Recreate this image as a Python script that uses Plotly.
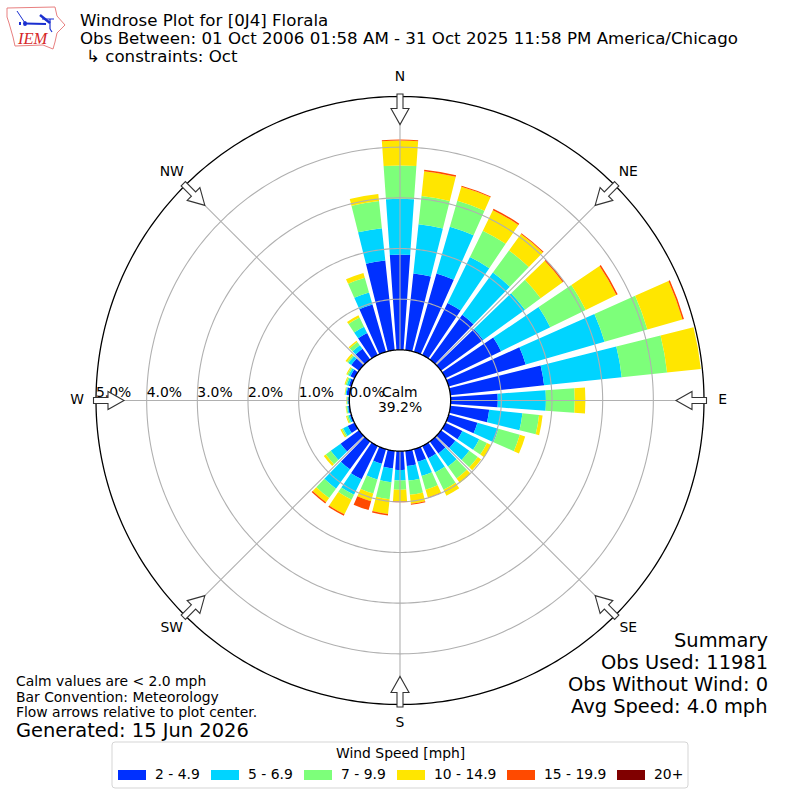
import math
import plotly.graph_objects as go

# direction bins, degrees from north, meteorology convention
directions = list(range(0, 360, 10))
# share of obs in percent, one list per speed bin
speed_2_5 = [1.88, 1.52, 1.61, 1.14, 1.09, 1.03, 1.22, 1.58, 1.86, 0.93, 0.77, 0.59, 0.37, 0.35, 0.29, 0.27, 0.26, 0.30,
             0.37, 0.35, 0.30, 0.73, 0.68, 0.45, 0.15, 0.03, 0.03, 0.02, 0.06, 0.05, 0.09, 0.19, 0.26, 0.48, 0.97, 1.78]
speed_5_7 = [1.10, 0.98, 0.96, 1.01, 1.03, 1.02, 1.08, 1.62, 1.54, 0.95, 0.66, 0.43, 0.37, 0.34, 0.32, 0.31, 0.29, 0.29,
             0.21, 0.27, 0.32, 0.34, 0.47, 0.24, 0.10, 0.03, 0.02, 0.02, 0.02, 0.04, 0.04, 0.07, 0.09, 0.14, 0.25, 0.64]
speed_7_10 = [0.66, 0.56, 0.53, 0.58, 0.54, 0.38, 0.78, 0.88, 0.90, 0.57, 0.33, 0.44, 0.17, 0.21, 0.29, 0.38, 0.28, 0.28,
              0.18, 0.34, 0.29, 0.11, 0.23, 0.12, 0.03, 0.03, 0.02, 0.01, 0.01, 0.03, 0.03, 0.03, 0.08, 0.20, 0.30, 0.54]
speed_10_15 = [0.49, 0.49, 0.29, 0.45, 0.40, 0.54, 0.67, 0.72, 0.67, 0.21, 0.07, 0.11, 0.09, 0.08, 0.11, 0.13, 0.16, 0.18,
               0.23, 0.29, 0.16, 0.32, 0.10, 0.05, 0.03, 0.02, 0.01, 0.01, 0.01, 0.02, 0.02, 0.04, 0.03, 0.05, 0.10, 0.14]
speed_15_20 = [0.02, 0.03, 0.02, 0.03, 0.02, 0.03, 0.03, 0.03, 0, 0, 0, 0, 0, 0, 0, 0, 0.01, 0.02,
               0.02, 0.03, 0.18, 0.03, 0.03, 0, 0, 0, 0, 0, 0, 0, 0, 0, 0, 0, 0, 0]
speed_20 = [0] * 36

bin_names = ["2 - 4.9", "5 - 6.9", "7 - 9.9", "10 - 14.9", "15 - 19.9", "20+"]
bin_colors = ["#0030ff", "#00d4ff", "#7dff7a", "#ffe600", "#ff4a00", "#800000"]
bin_values = [speed_2_5, speed_5_7, speed_7_10, speed_10_15, speed_15_20, speed_20]

compass_angles = [0, 45, 90, 135, 180, 225, 270, 315]
compass_names = ["N", "NE", "E", "SE", "S", "SW", "W", "NW"]
ring_values = [0, 1, 2, 3, 4, 5]
ring_labels = ["0.0%", "1.0%", "2.0%", "3.0%", "4.0%", "5.0%"]

FONT = "DejaVu Sans"
CX, CY = 400, 400.5
R = 304  # pixels from center to the 5% ring
RMIN, RMAX = -1, 5.6  # axis runs past 5% so the compass labels stay inside it
R_AXIS = R * (RMAX - RMIN) / (5 - RMIN)
COMPASS_R = 5.37


def px(x):
    return x / 800


def py(y):
    return 1 - y / 800


def note(x, y, text, size=13.9, xanchor="left", yanchor="middle", color="black", family=FONT):
    return dict(x=px(x), y=py(y), xref="paper", yref="paper", text=text, showarrow=False, xanchor=xanchor,
                yanchor=yanchor, align=xanchor, font=dict(family=family, size=size, color=color))


def arrow_path(angle):
    # block arrow lying on the outer ring, pointing at the plot center
    outline = [(-3, 306.5), (3, 306.5), (3, 292), (9, 292), (0, 276), (-9, 292), (-3, 292)]
    a = math.radians(angle)
    pts = []
    for side, r in outline:
        x = CX + r * math.sin(a) + side * math.cos(a)
        y = CY - r * math.cos(a) + side * math.sin(a)
        pts.append(f"{px(x):.5f},{py(y):.5f}")
    return "M" + " L".join(pts) + " Z"


def rounded_box(x0, y0, x1, y1, rad):
    return (f"M{px(x0 + rad):.5f},{py(y0):.5f} L{px(x1 - rad):.5f},{py(y0):.5f} "
            f"Q{px(x1):.5f},{py(y0):.5f} {px(x1):.5f},{py(y0 + rad):.5f} L{px(x1):.5f},{py(y1 - rad):.5f} "
            f"Q{px(x1):.5f},{py(y1):.5f} {px(x1 - rad):.5f},{py(y1):.5f} L{px(x0 + rad):.5f},{py(y1):.5f} "
            f"Q{px(x0):.5f},{py(y1):.5f} {px(x0):.5f},{py(y1 - rad):.5f} L{px(x0):.5f},{py(y0 + rad):.5f} "
            f"Q{px(x0):.5f},{py(y0):.5f} {px(x0 + rad):.5f},{py(y0):.5f} Z")


fig = go.Figure()
for name, color, values in zip(bin_names, bin_colors, bin_values):
    fig.add_trace(go.Barpolar(r=values, theta=directions, width=8, name=name, marker=dict(color=color, line_width=0)))

# grid has to sit on top of the bars
circle = list(range(0, 361))
for ring in ring_values[1:-1]:
    fig.add_trace(go.Scatterpolar(r=[ring] * len(circle), theta=circle, mode="lines",
                                  line=dict(color="#b0b0b0", width=1.1), hoverinfo="skip"))
for angle in compass_angles:
    fig.add_trace(go.Scatterpolar(r=[0, 5], theta=[angle, angle], mode="lines",
                                  line=dict(color="#b0b0b0", width=1.1), hoverinfo="skip"))
for ring in [0, 5]:
    fig.add_trace(go.Scatterpolar(r=[ring] * len(circle), theta=circle, mode="lines",
                                  line=dict(color="black", width=1.3), hoverinfo="skip"))
fig.add_trace(go.Scatterpolar(r=ring_values, theta=[270] * 6, mode="text", text=ring_labels,
                              textposition="top right", textfont=dict(family=FONT, size=13.9, color="black"),
                              hoverinfo="skip"))
fig.add_trace(go.Scatterpolar(r=[COMPASS_R] * 8, theta=compass_angles, mode="text", text=compass_names,
                              textposition="middle center",
                              textfont=dict(family=FONT, size=13.9, color="black"), hoverinfo="skip"))

shapes = []
for angle in compass_angles:
    shapes.append(dict(type="path", xref="paper", yref="paper", path=arrow_path(angle), fillcolor="white",
                       line=dict(color="#333333", width=1.1)))

# logo, Iowa outline with a wind barb
iowa = [(7, 8), (55, 7), (57, 16), (65, 25), (57, 33), (55, 42), (53, 49), (43, 45), (15, 46), (13, 37), (9, 23), (7, 17)]
shapes.append(dict(type="path", xref="paper", yref="paper", line=dict(color="#e88080", width=1),
                   path="M" + " L".join(f"{px(x):.5f},{py(y):.5f}" for x, y in iowa) + " Z"))
for seg, w in [(((17, 11), (19, 14)), 1), (((19, 14), (25, 23)), 1), (((25, 23.5), (46, 24)), 1.8),
               (((50, 19), (50, 29)), 1.2), (((40, 15), (50, 23)), 2.5), (((42, 19), (54, 19)), 1),
               (((50, 29), (52, 32)), 1.2), ((( 20, 22), (20, 25)), 2)]:
    (x0, y0), (x1, y1) = seg
    shapes.append(dict(type="line", xref="paper", yref="paper", x0=px(x0), y0=py(y0), x1=px(x1), y1=py(y1),
                       line=dict(color="#1a2fd0", width=w)))
shapes.append(dict(type="circle", xref="paper", yref="paper", x0=px(23), y0=py(21), x1=px(27), y1=py(26),
                   fillcolor="#1a2fd0", line_width=0))

# legend box, plotly's own swatches are too small for this
shapes.append(dict(type="path", xref="paper", yref="paper", path=rounded_box(112, 742, 688, 788, 3),
                   fillcolor="white", line=dict(color="#d5d5d5", width=1)))
swatch_x = [118, 211, 304, 397, 507, 617]
for x, color in zip(swatch_x, bin_colors):
    shapes.append(dict(type="rect", xref="paper", yref="paper", x0=px(x), y0=py(770), x1=px(x + 28), y1=py(780),
                       fillcolor=color, line_width=0))

annotations = [
    note(78, 21, "Windrose Plot for [0J4] Florala", 16.67),
    note(78, 39, "Obs Between: 01 Oct 2006 01:58 AM - 31 Oct 2025 11:58 PM America/Chicago", 16.67),
    note(84, 56, "↳ constraints: Oct", 16.67),
    note(15, 39, "<i>IEM</i>", 16.5, color="#d62728", family="Liberation Serif"),
    note(14, 681, "Calm values are &lt; 2.0 mph", 13.9),
    note(14, 697, "Bar Convention: Meteorology", 13.9),
    note(14, 712, "Flow arrows relative to plot center.", 13.9),
    note(14, 730, "Generated: 15 Jun 2026", 19.45),
    note(770, 640, "Summary", 19.45, xanchor="right"),
    note(770, 662, "Obs Used: 11981", 19.45, xanchor="right"),
    note(770, 684, "Obs Without Wind: 0", 19.45, xanchor="right"),
    note(770, 706, "Avg Speed: 4.0 mph", 19.45, xanchor="right"),
    note(400, 392, "Calm", 13.9, xanchor="center"),
    note(400, 407, "39.2%", 13.9, xanchor="center"),
    note(400, 753, "Wind Speed [mph]", 13.9, xanchor="center"),
]
for x, name in zip(swatch_x, bin_names):
    annotations.append(note(x + 35, 774, name, 13.9))

fig.update_layout(
    width=800, height=800, margin=dict(l=0, r=0, t=0, b=0), showlegend=False,
    paper_bgcolor="white", plot_bgcolor="white",
    shapes=shapes, annotations=annotations,
    polar=dict(
        domain=dict(x=[px(CX - R_AXIS), px(CX + R_AXIS)], y=[py(CY + R_AXIS), py(CY - R_AXIS)]),
        bgcolor="rgba(0,0,0,0)", barmode="stack",
        radialaxis=dict(range=[RMIN, RMAX], visible=False, showgrid=False),
        angularaxis=dict(direction="clockwise", rotation=90, tickmode="array", tickvals=compass_angles,
                         showticklabels=False, showgrid=False, ticks="", showline=False),
    ),
)

fig.write_html("out.html", config=dict(displayModeBar=False), post_script="document.body.style.margin='0';")
